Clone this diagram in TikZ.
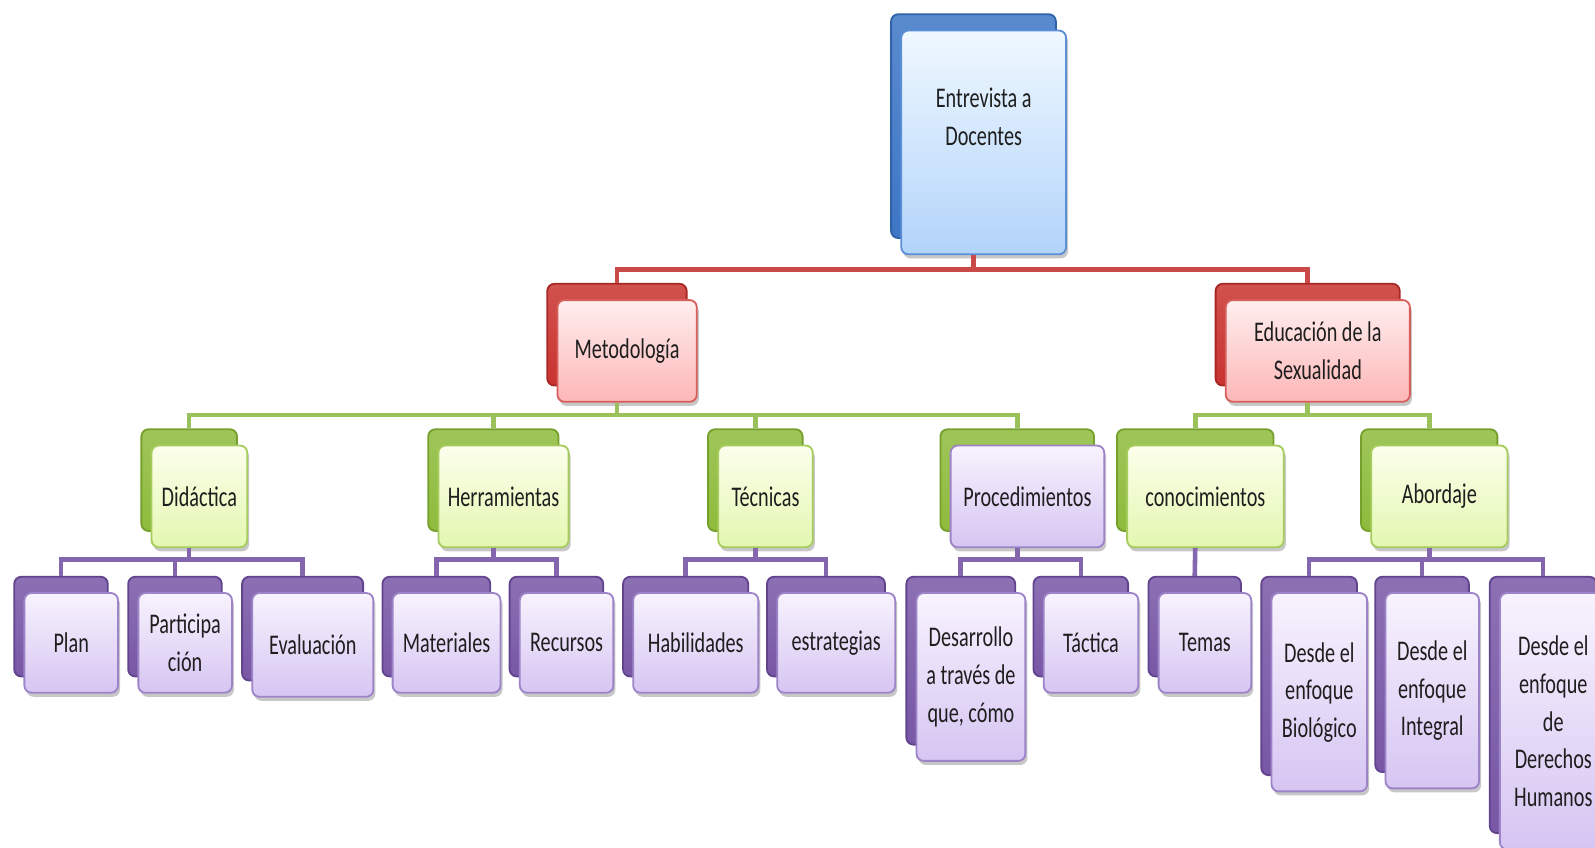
\documentclass[tikz,border=0pt]{standalone}
\usepackage{fontspec}
\setmainfont{Carlito}[FakeStretch=0.71]
\usetikzlibrary{shadows}
\definecolor{txt}{HTML}{1E1E1E}
\definecolor{bT}{HTML}{F0F8FF}\definecolor{bB}{HTML}{B2D4FA}\definecolor{bL}{HTML}{5B8FD6}
\definecolor{bK}{HTML}{3D76C6}\definecolor{bKL}{HTML}{2F62A8}
\definecolor{rT}{HTML}{FFEEEE}\definecolor{rB}{HTML}{FDB6B7}\definecolor{rL}{HTML}{D65F5C}
\definecolor{rK}{HTML}{C9332F}\definecolor{rKL}{HTML}{A82825}
\definecolor{gT}{HTML}{FCFFEC}\definecolor{gB}{HTML}{E3F7B0}\definecolor{gL}{HTML}{A6CC5E}
\definecolor{gK}{HTML}{8EBB3C}\definecolor{gKL}{HTML}{76A02C}
\definecolor{pT}{HTML}{F8F3FE}\definecolor{pB}{HTML}{D6C5F2}\definecolor{pL}{HTML}{9D84C8}
\definecolor{pK}{HTML}{7857A6}\definecolor{pKL}{HTML}{62448E}
\definecolor{redln}{HTML}{C94A48}\definecolor{grnln}{HTML}{9BC25A}\definecolor{purln}{HTML}{8466AE}
\tikzset{
  x=1pt, y=-1pt,
  boxbase/.style={rounded corners=7pt, inner sep=0pt, align=center,
    font=\fontsize{28}{37}\selectfont, text=txt, line width=1.8pt},
  shad/.style={drop shadow={shadow xshift=2pt, shadow yshift=-4pt, opacity=0.22, fill=black}},
  frontB/.style={boxbase, draw=bL, top color=bT, bottom color=bB, shad},
  frontR/.style={boxbase, draw=rL, top color=rT, bottom color=rB, shad},
  frontG/.style={boxbase, draw=gL, top color=gT, bottom color=gB, shad},
  frontP/.style={boxbase, draw=pL, top color=pT, bottom color=pB, shad},
  backB/.style={boxbase, draw=bKL, top color=bK!85!white, bottom color=bK},
  backR/.style={boxbase, draw=rKL, top color=rK!85!white, bottom color=rK},
  backG/.style={boxbase, draw=gKL, top color=gK!85!white, bottom color=gK},
  backP/.style={boxbase, draw=pKL, top color=pK!85!white, bottom color=pK},
  conn/.style={line width=4.5pt},
  redc/.style={conn, draw=redln},
  grnc/.style={conn, draw=grnln},
  purc/.style={conn, draw=purln},
}
% name, back style, front style, cx, cy, w, h, text
\newcommand\tbox[8]{%
  \node[#2, minimum width=#6pt, minimum height=#7pt] (#1b) at (#4-10,#5-16) {};
  \node[#3, minimum width=#6pt, minimum height=#7pt] (#1) at (#4,#5) {#8};
}
\begin{document}
\begin{tikzpicture}
\useasboundingbox[fill=white] (0,0) rectangle (1568,833);
% level 0
\tbox{root}{backB}{frontB}{967}{140}{162}{220}{}
\node[font=\fontsize{28}{37}\selectfont, text=txt, align=center, inner sep=0pt] (roottxt) at (967,115) {Entrevista a\\Docentes};
% level 1
\tbox{met}{backR}{frontR}{616.5}{345}{137}{100}{Metodología}
\tbox{edu}{backR}{frontR}{1295.5}{345}{181}{100}{Educación de la\\Sexualidad}
% level 2
\tbox{did}{backG}{frontG}{196}{488}{94}{100}{Didáctica}
\tbox{her}{backG}{frontG}{495}{488}{128}{100}{Herramientas}
\tbox{tec}{backG}{frontG}{752.5}{488}{93}{100}{Técnicas}
\tbox{pro}{backG}{frontP}{1010}{488}{151}{100}{Procedimientos}
\tbox{con}{backG}{frontG}{1185}{488}{154}{100}{conocimientos}
\tbox{abo}{backG}{frontG}{1415}{488}{134}{100}{Abordaje}
% level 3
\tbox{plan}{backP}{frontP}{70}{632}{92}{98}{Plan}
\tbox{par}{backP}{frontP}{182}{632}{92}{98}{Participa\\ción}
\tbox{eva}{backP}{frontP}{307.5}{634}{119}{102}{Evaluación}
\tbox{mat}{backP}{frontP}{439}{632}{106}{98}{Materiales}
\tbox{rec}{backP}{frontP}{557}{632}{92}{98}{Recursos}
\tbox{hab}{backP}{frontP}{684}{632}{123}{98}{Habilidades}
\tbox{est}{backP}{frontP}{822}{632}{116}{98}{estrategias}
\tbox{des}{backP}{frontP}{954.5}{665.5}{107}{165}{Desarrollo\\a través de\\que, cómo}
\tbox{tac}{backP}{frontP}{1072.5}{632}{93}{98}{Táctica}
\tbox{tem}{backP}{frontP}{1184.5}{632}{91}{98}{Temas}
\tbox{bio}{backP}{frontP}{1297}{680.5}{94}{195}{Desde el\\enfoque\\Biológico}
\tbox{int}{backP}{frontP}{1408}{679}{92}{192}{Desde el\\enfoque\\Integral}
\tbox{der}{backP}{frontP}{1527}{709}{105}{252}{Desde el\\enfoque\\de\\Derechos\\Humanos}
% junctions
\coordinate (j0) at (957,265);
\coordinate (j1) at (606.5,408);
\coordinate (j2) at (1285.5,408);
\coordinate (j3) at (186,550);
\coordinate (j4) at (485,550);
\coordinate (j5) at (742.5,550);
\coordinate (j6) at (1000,550);
\coordinate (j7) at (1405,550);
% red connectors
\draw[redc] (rootb |- root.south) -- (j0);
\draw[redc] (j0) -| (metb.north);
\draw[redc] (j0) -| (edub.north);
% green connectors
\draw[grnc] (metb |- met.south) -- (j1);
\draw[grnc] (j1) -| (didb.north);
\draw[grnc] (j1) -| (herb.north);
\draw[grnc] (j1) -| (tecb.north);
\draw[grnc] (j1) -| (prob.north);
\draw[grnc] (edub |- edu.south) -- (j2);
\draw[grnc] (j2) -| (conb.north);
\draw[grnc] (j2) -| (abob.north);
% purple connectors
\draw[purc] (didb |- did.south) -- (j3);
\draw[purc] (j3) -| (planb.north);
\draw[purc] (j3) -| (parb.north);
\draw[purc] (j3) -| (evab.north);
\draw[purc] (herb |- her.south) -- (j4);
\draw[purc] (j4) -| (matb.north);
\draw[purc] (j4) -| (recb.north);
\draw[purc] (tecb |- tec.south) -- (j5);
\draw[purc] (j5) -| (habb.north);
\draw[purc] (j5) -| (estb.north);
\draw[purc] (prob |- pro.south) -- (j6);
\draw[purc] (j6) -| (desb.north);
\draw[purc] (j6) -| (tacb.north);
\draw[purc] (conb |- con.south) -- (temb.north);
\draw[purc] (abob |- abo.south) -- (j7);
\draw[purc] (j7) -| (biob.north);
\draw[purc] (j7) -| (intb.north);
\draw[purc] (j7) -| (derb.north);
\end{tikzpicture}
\end{document}
